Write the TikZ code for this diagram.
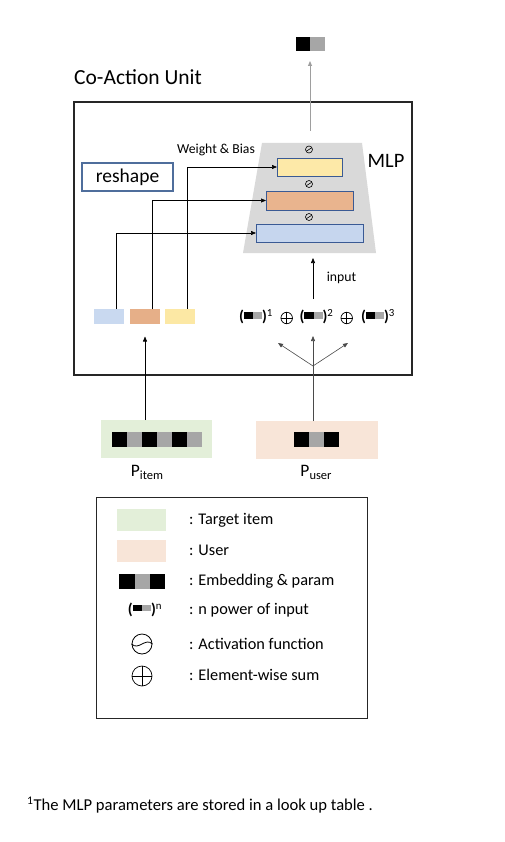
\documentclass[tikz,border=0pt]{standalone}
\usepackage{fontspec}
\setmainfont{Carlito}
\usetikzlibrary{arrows.meta,calc}
\definecolor{sqgray}{HTML}{A6A6A6}
\definecolor{mlpgray}{HTML}{D9D9D9}
\definecolor{myel}{HTML}{FDE9A8}
\definecolor{morg}{HTML}{E9B48E}
\definecolor{mblu}{HTML}{C6D6EE}
\definecolor{syel}{HTML}{FCE8A4}
\definecolor{sorg}{HTML}{E6AF88}
\definecolor{sblu}{HTML}{C9D9F0}
\definecolor{rectedge}{HTML}{3A5A94}
\definecolor{reshedge}{HTML}{4F6E9C}
\definecolor{itemgreen}{HTML}{E3EFD9}
\definecolor{userpeach}{HTML}{F8E5D8}
\definecolor{outline}{HTML}{9E9E9E}
\definecolor{fangray}{HTML}{4A4A4A}
\newcommand{\pwr}[1]{{\bfseries(}\raisebox{0.2em}{\textcolor{black}{\rule{0.62em}{0.45em}}\textcolor{sqgray}{\rule{0.56em}{0.45em}}}{\bfseries)}\textsuperscript{#1}}
\newcommand{\fs}[1]{\fontsize{#1}{#1}\selectfont}
\begin{document}
\begin{tikzpicture}[x=1pt,y=-1pt,
  box/.style={rectangle, inner sep=0pt, outer sep=0pt},
  mlprect/.style={box, draw=rectedge, line width=0.9pt},
  smallrect/.style={box},
  sqb/.style={box, fill=black, minimum height=14.5pt, minimum width=15pt},
  sqg/.style={box, fill=sqgray, minimum height=14.5pt, minimum width=15pt},
  conn/.style={draw=black, line width=0.6pt, -{Triangle[length=5pt,width=4pt]}},
  fan/.style={draw=fangray, line width=0.6pt, -{Triangle[length=5pt,width=4pt]}},
  actsmall/.style={circle, draw, line width=0.6pt, inner sep=0pt, minimum size=7pt},
  actbig/.style={circle, draw, line width=0.8pt, inner sep=0pt, minimum size=20pt},
  plussym/.style={circle, draw, line width=0.7pt, inner sep=0pt, minimum size=#1},
  lab/.style={inner sep=0pt, font=\fs{15.5}},
  legtext/.style={inner sep=0pt, anchor=west, font=\fs{16.3}},
  powtext/.style={inner sep=0pt, font=\fs{15.5}},
]
\useasboundingbox (0,0) rectangle (504,842);
\fill[white] (0,0) rectangle (504,842);

% output icon
\node[box, fill=black, minimum width=14pt, minimum height=14pt] (outb) at (303,44) {};
\node[box, fill=sqgray, minimum width=15pt, minimum height=14pt, anchor=west] (outg) at (outb.east) {};

\node[inner sep=0pt, anchor=west, font=\fs{21.5}] (title) at (74,77) {Co-Action Unit};

% main box
\node[box, draw=black!85, line width=1.3pt, minimum width=338pt, minimum height=273pt] (cau) at (243,238.5) {};

% MLP trapezoid
\fill[mlpgray] (262,143) -- (362,143) -- (376,253) -- (243,253) -- cycle;
\coordinate (mlptop) at (310,143);
\coordinate (mlpbot) at (313,253);

\draw[draw=outline, line width=0.9pt, -{Triangle[length=5pt,width=4pt]}, shorten <=12pt, shorten >=10pt] (mlptop) -- (outb.south east);

\node[mlprect, fill=myel, minimum width=65pt, minimum height=18pt] (my) at (309.5,167) {};
\node[mlprect, fill=morg, minimum width=87pt, minimum height=19pt] (mo) at (309.5,200.5) {};
\node[mlprect, fill=mblu, minimum width=107pt, minimum height=18pt] (mb) at (309.5,233) {};

\node[actsmall] (a1) at (309,149.5) {};
\node[actsmall] (a2) at (309,184) {};
\node[actsmall] (a3) at (309,217) {};
\foreach \a in {a1,a2,a3}{
  \draw[line width=0.6pt] ([xshift=-2.6pt,yshift=-1.6pt]\a.center) .. controls ([xshift=-0.5pt,yshift=-1.2pt]\a.center) and ([xshift=0.5pt,yshift=1.2pt]\a.center) .. ([xshift=2.6pt,yshift=1.6pt]\a.center);
}

\node[inner sep=0pt, font=\fs{20.5}] (mlp) at (386,161) {MLP};
\node[inner sep=0pt, font=\fs{13.7}] (wb) at (216,150) {Weight \& Bias};

\node[box, draw=reshedge, line width=1.1pt, minimum width=91pt, minimum height=28pt, font=\fs{19.5}] (resh) at (127.5,177) {reshape};

% small parameter rects
\node[smallrect, fill=sblu, minimum width=30pt, minimum height=15pt] (sb) at (109,316.5) {};
\node[smallrect, fill=sorg, minimum width=30pt, minimum height=15pt] (so) at (145,316.5) {};
\node[smallrect, fill=syel, minimum width=30pt, minimum height=15pt] (sy) at (180,316.5) {};

\draw[conn] ([xshift=7.5pt]sb.north) |- (mb.west);
\draw[conn] ([xshift=7.5pt]so.north) |- (mo.west);
\draw[conn] ([xshift=7.5pt]sy.north) |- (my.west);

% formula
\node[powtext] (f1) at (256,317) {\pwr{1}};
\node[plussym=11.5pt] (p1) at (286.7,318) {};
\node[powtext] (f2) at (316.5,317) {\pwr{2}};
\node[plussym=11.5pt] (p2) at (346.7,318) {};
\node[powtext] (f3) at (378,317) {\pwr{3}};
\foreach \p in {p1,p2}{\draw[line width=0.7pt] (\p.north) -- (\p.south) (\p.west) -- (\p.east);}

\node[inner sep=0pt, font=\fs{13.7}] (inp) at (341.5,278) {input};
\coordinate (inbase) at (313,299);
\draw[conn, shorten >=5pt] (inbase) -- (mlpbot);

% fan
\coordinate (fanpt) at (313,366);
\coordinate (fanl) at (278,343);
\coordinate (fanc) at (313,336);
\coordinate (fanr) at (348,343);
\draw[fan] (fanpt) -- (fanl);
\draw[fan] (fanpt) -- (fanc);
\draw[fan] (fanpt) -- (fanr);

% P item
\node[box, fill=itemgreen, minimum width=111pt, minimum height=38pt] (pitem) at (156.5,439) {};
\node[sqb, anchor=west] (i1) at (111.5,439.5) {};
\node[sqg, anchor=west] (i2) at (i1.east) {};
\node[sqb, anchor=west] (i3) at (i2.east) {};
\node[sqg, anchor=west] (i4) at (i3.east) {};
\node[sqb, anchor=west] (i5) at (i4.east) {};
\node[sqg, anchor=west] (i6) at (i5.east) {};
\node[lab, font=\fs{17.5}] (pitemlab) at (147,472) {P\raisebox{-3pt}{\fs{12.5}item}};

% P user
\node[box, fill=userpeach, minimum width=122pt, minimum height=38pt] (puser) at (316.7,440) {};
\node[sqb, anchor=west] (u1) at (294,439.5) {};
\node[sqg, anchor=west] (u2) at (u1.east) {};
\node[sqb, anchor=west] (u3) at (u2.east) {};
\node[lab, font=\fs{17.5}] (puserlab) at (316,472) {P\raisebox{-3pt}{\fs{12.5}user}};

\draw[conn] (so.south |- pitem.north) -- ($(so.south)+(0,12.5)$);
\draw[draw=fangray, line width=0.6pt] (puser.north -| fanpt) -- (fanpt);

% legend
\node[box, draw=black!85, line width=1pt, minimum width=271pt, minimum height=221pt] (leg) at (231.5,607.5) {};
\node[box, fill=itemgreen, minimum width=49pt, minimum height=22pt] (lg1) at (141.5,520) {};
\node[box, fill=userpeach, minimum width=49pt, minimum height=22pt] (lg2) at (141.5,551) {};
\node[sqb, anchor=west, minimum width=15.5pt, minimum height=15pt] (l1) at (119,581.5) {};
\node[sqg, anchor=west, minimum width=15.5pt, minimum height=15pt] (l2) at (l1.east) {};
\node[sqb, anchor=west, minimum width=15pt, minimum height=15pt] (l3) at (l2.east) {};
\node[powtext] (lpow) at (145,610) {\pwr{n}};
\node[actbig] (lact) at (142,644) {};
\draw[line width=0.8pt] (lact.west) .. controls ([xshift=-3.5pt,yshift=-7pt]lact.center) and ([xshift=3.5pt,yshift=7pt]lact.center) .. (lact.east);
\node[plussym=20pt] (lsum) at (142,676) {};
\draw[line width=0.8pt] (lsum.north) -- (lsum.south) (lsum.west) -- (lsum.east);

\node[legtext] (t1) at (189,520) {: Target item};
\node[legtext] (t2) at (189,550) {: User};
\node[legtext] (t3) at (189,581) {: Embedding \& param};
\node[legtext] (t4) at (189,610) {: n power of input};
\node[legtext] (t5) at (189,644) {: Activation function};
\node[legtext] (t6) at (189,675) {: Element-wise sum};

% footnote
\node[inner sep=0pt, anchor=west, font=\fs{16.6}] (foot) at (27,805) {\textsuperscript{1}The MLP parameters are stored in a look up table .};
\end{tikzpicture}
\end{document}
